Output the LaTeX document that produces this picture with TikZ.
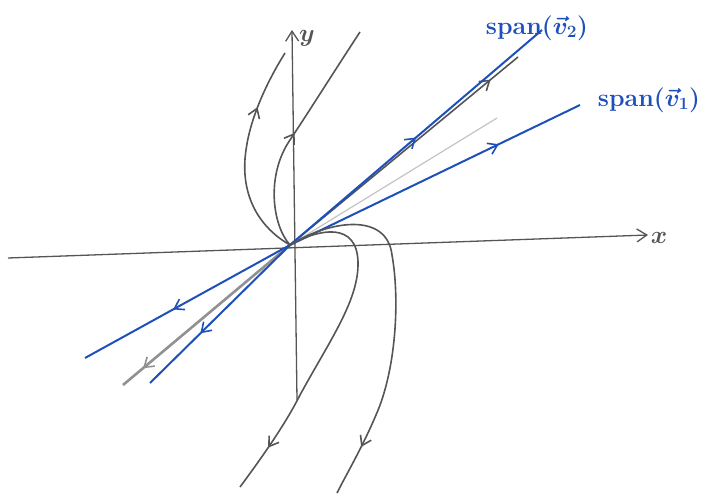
\documentclass[tikz,border=0pt]{standalone}
\usetikzlibrary{arrows.meta,decorations.markings}
\definecolor{pblue}{RGB}{30,80,185}
\definecolor{pgray}{RGB}{85,85,85}
\definecolor{lgray}{RGB}{145,145,145}
\tikzset{
  blueline/.style={pblue,line width=2pt},
  grayline/.style={pgray,line width=1.6pt},
  axisline/.style={pgray,line width=1.3pt},
  midarrow/.style={postaction={decorate},decoration={markings,mark=at position #1 with {\arrow{Straight Barb[length=9pt,width=12pt,line width=1.6pt]}}}},
  lbl/.style={pblue,font=\fontsize{25}{27}\selectfont\bfseries\boldmath},
  axlbl/.style={pgray,font=\fontsize{28}{30}\selectfont\boldmath},
}
\begin{document}
\begin{tikzpicture}[x=1pt,y=-1pt]
\useasboundingbox (0,0) rectangle (704,495);
\coordinate (O) at (290,245);
% axes
\coordinate (xl) at (8,258);
\coordinate (xr) at (648,235);
\coordinate (yb) at (297,400);
\coordinate (yt) at (292,30);
\draw[axisline,-{Straight Barb[length=10pt,width=13pt]}] (xl) -- (xr);
\draw[axisline,-{Straight Barb[length=10pt,width=13pt]}] (yb) -- (yt);
\node[axlbl] (xlab) at (659,238) {$x$};
\node[axlbl] (ylab) at (307,38) {$y$};
% end points
\coordinate (b2) at (542,30);
\coordinate (b1) at (580,105);
\coordinate (g1) at (518,57);
\coordinate (g0) at (497,118);
\coordinate (bl1) at (85,358);
\coordinate (bl2) at (150,383);
\coordinate (gl) at (123,385);
% gray straight lines
\draw[lgray!55,line width=1.2pt] (O) -- (g0);
\draw[grayline,midarrow=0.88] (O) -- (g1);
\draw[lgray,line width=2.6pt,midarrow=0.88] (O) -- (gl);
% blue eigen-lines
\draw[blueline,midarrow=0.5] (O) -- (b2);
\draw[blueline,midarrow=0.72] (O) -- (b1);
\draw[blueline,midarrow=0.57] (O) -- (bl1);
\draw[blueline,midarrow=0.64] (O) -- (bl2);
% curved trajectories
\draw[grayline,midarrow=0.72] (O) .. controls (255,225) and (240,190) .. (246,150)
   .. controls (250,120) and (265,85) .. (285,53);
\draw[grayline,midarrow=0.5] (O) .. controls (272,225) and (266,175) .. (290,140)
   .. controls (310,110) and (335,70) .. (360,32);
\draw[grayline,midarrow=0.86] (O) .. controls (320,228) and (357,222) .. (358,262)
   .. controls (359,300) and (330,340) .. (300,395)
   .. controls (285,425) and (260,460) .. (240,487);
\draw[grayline,midarrow=0.86] (O) .. controls (330,220) and (387,212) .. (392,255)
   .. controls (400,300) and (396,370) .. (376,415)
   .. controls (362,448) and (346,475) .. (337,493);
% labels
\node[lbl] (l2) at (537,28) {span$(\vec{v}_2)$};
\node[lbl] (l1) at (649,100) {span$(\vec{v}_1)$};
\end{tikzpicture}
\end{document}
